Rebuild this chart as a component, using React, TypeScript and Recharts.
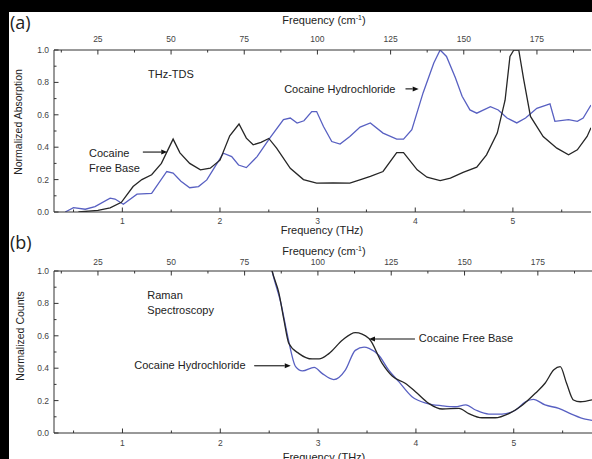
import React from 'react';
import { LineChart, Line, XAxis, YAxis, ReferenceLine, ReferenceDot } from 'recharts';

// ---------- axis definitions ----------
const CM_PER_THZ = 33.356;
const F_MIN = 0.3;
const F_MAX = 5.8;

const thzTicks = [0.5, 1, 1.5, 2, 2.5, 3, 3.5, 4, 4.5, 5, 5.5];
const thzLabels = [1, 2, 3, 4, 5];
const cmTicks = [12.5, 25, 37.5, 50, 62.5, 75, 87.5, 100, 112.5, 125, 137.5, 150, 162.5, 175, 187.5];
const cmLabels = [25, 50, 75, 100, 125, 150, 175];
const yTicks = [0, 0.1, 0.2, 0.3, 0.4, 0.5, 0.6, 0.7, 0.8, 0.9, 1.0];
const yLabels = [0, 0.2, 0.4, 0.6, 0.8, 1.0];

// ---------- (a) THz-TDS ----------
const tdsFreeBaseFreq = [0.55, 0.75, 0.875, 0.99, 1.11, 1.2, 1.3, 1.4, 1.52, 1.59, 1.69, 1.8, 1.9, 2.0, 2.1, 2.195, 2.27, 2.34, 2.42, 2.5, 2.58, 2.72, 2.855, 2.99, 3.16, 3.33, 3.44, 3.54, 3.67, 3.81, 3.88, 4.02, 4.12, 4.255, 4.36, 4.49, 4.63, 4.73, 4.84, 4.92, 4.97, 5.01, 5.06, 5.11, 5.18, 5.31, 5.45, 5.57, 5.66, 5.76, 5.8];
const tdsFreeBaseAbs = [0.0, 0.01, 0.025, 0.06, 0.157, 0.2, 0.23, 0.3, 0.45, 0.365, 0.3, 0.26, 0.27, 0.32, 0.47, 0.543, 0.456, 0.415, 0.43, 0.454, 0.394, 0.27, 0.2, 0.178, 0.18, 0.178, 0.2, 0.22, 0.25, 0.367, 0.367, 0.26, 0.215, 0.194, 0.209, 0.245, 0.277, 0.353, 0.487, 0.69, 0.96, 1.0, 1.0, 0.82, 0.59, 0.466, 0.394, 0.353, 0.384, 0.466, 0.52];

const tdsHclFreq = [0.415, 0.5, 0.62, 0.72, 0.875, 0.925, 1.01, 1.15, 1.3, 1.455, 1.52, 1.6, 1.69, 1.78, 1.865, 1.97, 2.035, 2.12, 2.19, 2.27, 2.38, 2.51, 2.65, 2.72, 2.79, 2.86, 2.94, 2.99, 3.06, 3.145, 3.23, 3.33, 3.435, 3.54, 3.67, 3.81, 3.88, 3.965, 4.08, 4.19, 4.255, 4.32, 4.41, 4.48, 4.56, 4.63, 4.77, 4.85, 4.94, 5.04, 5.13, 5.245, 5.38, 5.43, 5.57, 5.66, 5.72, 5.8];
const tdsHclAbs = [0.0, 0.027, 0.017, 0.033, 0.085, 0.08, 0.048, 0.11, 0.115, 0.25, 0.24, 0.19, 0.15, 0.157, 0.198, 0.3, 0.363, 0.342, 0.29, 0.274, 0.342, 0.456, 0.57, 0.58, 0.549, 0.563, 0.62, 0.62, 0.528, 0.435, 0.419, 0.466, 0.524, 0.55, 0.487, 0.45, 0.45, 0.508, 0.735, 0.92, 1.0, 0.96, 0.83, 0.714, 0.63, 0.61, 0.65, 0.63, 0.58, 0.55, 0.58, 0.64, 0.667, 0.56, 0.57, 0.56, 0.58, 0.66];

// ---------- (b) Raman ----------
const ramanFreeBaseFreq = [2.45, 2.53, 2.6, 2.65, 2.7, 2.805, 2.94, 3.01, 3.11, 3.25, 3.38, 3.52, 3.655, 3.76, 3.89, 3.995, 4.13, 4.27, 4.44, 4.54, 4.675, 4.81, 4.95, 5.08, 5.22, 5.32, 5.41, 5.475, 5.54, 5.61, 5.68, 5.8];
const ramanFreeBaseCounts = [1.25, 1.0, 0.862, 0.7, 0.554, 0.49, 0.457, 0.457, 0.49, 0.574, 0.62, 0.584, 0.43, 0.35, 0.307, 0.255, 0.183, 0.148, 0.152, 0.12, 0.094, 0.094, 0.12, 0.168, 0.245, 0.307, 0.39, 0.41, 0.307, 0.204, 0.193, 0.205];

const ramanHclFreq = [2.45, 2.53, 2.62, 2.69, 2.77, 2.84, 2.96, 3.04, 3.16, 3.28, 3.38, 3.47, 3.52, 3.62, 3.72, 3.825, 3.96, 4.11, 4.27, 4.4, 4.51, 4.61, 4.745, 4.88, 5.02, 5.12, 5.2, 5.32, 5.46, 5.59, 5.73, 5.8];
const ramanHclCounts = [1.25, 1.0, 0.8, 0.594, 0.41, 0.383, 0.405, 0.368, 0.33, 0.39, 0.51, 0.53, 0.523, 0.48, 0.39, 0.317, 0.224, 0.183, 0.168, 0.162, 0.173, 0.142, 0.117, 0.117, 0.142, 0.193, 0.208, 0.173, 0.152, 0.117, 0.085, 0.078];

type Pt = { f: number; v: number; c: number };
const zip = (f: number[], v: number[]): Pt[] => f.map((x, i) => ({ f: x, v: v[i], c: x * CM_PER_THZ }));

const BLACK = '#262626';
const BLUE = '#5860c2';
const AXIS = '#333';
const FONT = '"Liberation Sans", Arial, sans-serif';

type Side = 'bottom' | 'top' | 'left' | 'right';
const isIn = (arr: number[], v: number) => arr.some((a) => Math.abs(a - v) < 1e-6);

function makeTick(side: Side, majors: number[], showLabel: boolean, off: number, fmt: (v: number) => string) {
  return (props: any) => {
    const { x, y, payload } = props;
    const v = payload.value as number;
    const major = isIn(majors, v);
    const len = major ? 4.5 : 2.5;
    let x2 = x, y2 = y;
    if (side === 'bottom') y2 = y - len;
    if (side === 'top') y2 = y + len;
    if (side === 'left') x2 = x + len;
    if (side === 'right') x2 = x - len;
    let label = null;
    if (showLabel && major) {
      const common = { fontFamily: FONT, fontSize: 8.5, fill: '#444' } as any;
      if (side === 'bottom') label = <text x={x} y={y + off} textAnchor="middle" {...common}>{fmt(v)}</text>;
      if (side === 'top') label = <text x={x} y={y - off} textAnchor="middle" {...common}>{fmt(v)}</text>;
      if (side === 'left') label = <text x={x - 5} y={y + 3} textAnchor="end" {...common}>{fmt(v)}</text>;
    }
    return (
      <g>
        <line x1={x} y1={y} x2={x2} y2={y2} stroke={AXIS} strokeWidth={1} />
        {label}
      </g>
    );
  };
}

const arrowShape = (props: any) => {
  const { x1, y1, x2, y2 } = props;
  const ang = Math.atan2(y2 - y1, x2 - x1);
  const L = 6, W = 2.5;
  const bx = x2 - L * Math.cos(ang), by = y2 - L * Math.sin(ang);
  const px = -Math.sin(ang) * W, py = Math.cos(ang) * W;
  return (
    <g>
      <line x1={x1} y1={y1} x2={bx} y2={by} stroke="#111" strokeWidth={1.1} />
      <polygon points={`${x2},${y2} ${bx + px},${by + py} ${bx - px},${by - py}`} fill="#111" />
    </g>
  );
};

const textShape = (txt: string) => (props: any) => (
  <text x={props.cx} y={props.cy} fontFamily={FONT} fontSize={11} fill="#222">{txt}</text>
);

function Panel(props: {
  height: number; topH: number; bottomH: number; right: number;
  topOff: number; bottomOff: number; rightLine: boolean;
  series: { data: Pt[]; color: string; type: any }[];
  notes: { f: number; v: number; text: string }[];
  arrows: { f1: number; f2: number; v: number }[];
}) {
  return (
    <LineChart width={592} height={props.height} margin={{ top: 0, right: props.right, bottom: 0, left: 0 }}>
      <XAxis xAxisId="b" dataKey="f" type="number" domain={[F_MIN, F_MAX]} allowDataOverflow
        ticks={thzTicks} interval={0} height={props.bottomH} tickSize={0} tickMargin={0} tickLine={false}
        axisLine={{ stroke: AXIS }} tick={makeTick('bottom', thzLabels, true, props.bottomOff, (v) => String(v))} />
      <XAxis xAxisId="t" dataKey="c" orientation="top" type="number" domain={[F_MIN * CM_PER_THZ, F_MAX * CM_PER_THZ]} allowDataOverflow
        ticks={cmTicks} interval={0} height={props.topH} tickSize={0} tickMargin={0} tickLine={false}
        axisLine={{ stroke: AXIS }} tick={makeTick('top', cmLabels, true, props.topOff, (v) => String(v))} />
      <YAxis yAxisId="l" type="number" domain={[0, 1]} allowDataOverflow ticks={yTicks} interval={0} width={54}
        tickSize={0} tickMargin={0} tickLine={false} axisLine={{ stroke: AXIS }}
        tick={makeTick('left', yLabels, true, 0, (v) => v.toFixed(1))} />
      <YAxis yAxisId="r" orientation="right" type="number" domain={[0, 1]} allowDataOverflow ticks={yTicks} interval={0} width={0}
        tickSize={0} tickMargin={0} tickLine={false} axisLine={props.rightLine ? { stroke: AXIS } : false}
        tick={makeTick('right', yLabels, false, 0, (v) => String(v))} />
      {/* invisible companion series so the secondary (cm-1 / right) axes are drawn */}
      <Line xAxisId="t" yAxisId="r" data={props.series[0].data} dataKey="v" dot={false} stroke="none"
        activeDot={false} legendType="none" isAnimationActive={false} />
      {props.series.map((s, i) => (
        <Line key={i} xAxisId="b" yAxisId="l" data={s.data} dataKey="v" type={s.type} dot={false}
          stroke={s.color} strokeWidth={1.3} isAnimationActive={false} />
      ))}
      {props.arrows.map((a, i) => (
        <ReferenceLine key={'a' + i} xAxisId="b" yAxisId="l" segment={[{ x: a.f1, y: a.v }, { x: a.f2, y: a.v }]}
          shape={arrowShape} />
      ))}
      {props.notes.map((n, i) => (
        <ReferenceDot key={'n' + i} xAxisId="b" yAxisId="l" x={n.f} y={n.v} r={0} shape={textShape(n.text)} />
      ))}
    </LineChart>
  );
}

export default function App() {
  return (
    <div style={{ position: 'absolute', left: 0, top: 0, width: 592, height: 459, background: '#fff', overflow: 'hidden' }}>
      <div style={{ position: 'absolute', left: 0, top: 0 }}>
        <Panel height={240} topH={50} bottomH={28} right={1} topOff={8.5} bottomOff={12} rightLine={true}
          series={[
            { data: zip(tdsHclFreq, tdsHclAbs), color: BLUE, type: 'linear' },
            { data: zip(tdsFreeBaseFreq, tdsFreeBaseAbs), color: BLACK, type: 'linear' },
          ]}
          notes={[
            { f: 1.263, v: 0.83, text: 'THz-TDS' },
            { f: 0.659, v: 0.34, text: 'Cocaine' },
            { f: 0.659, v: 0.248, text: 'Free Base' },
            { f: 2.657, v: 0.737, text: 'Cocaine Hydrochloride' },
          ]}
          arrows={[
            { f1: 1.21, f2: 1.46, v: 0.37 },
            { f1: 3.9, f2: 4.035, v: 0.76 },
          ]}
        />
      </div>
      <div style={{ position: 'absolute', left: 0, top: 240 }}>
        <Panel height={219} topH={31} bottomH={26} right={0} topOff={6} bottomOff={13} rightLine={false}
          series={[
            { data: zip(ramanHclFreq, ramanHclCounts), color: BLUE, type: 'monotone' },
            { data: zip(ramanFreeBaseFreq, ramanFreeBaseCounts), color: BLACK, type: 'monotone' },
          ]}
          notes={[
            { f: 1.254, v: 0.827, text: 'Raman' },
            { f: 1.254, v: 0.735, text: 'Spectroscopy' },
            { f: 1.121, v: 0.395, text: 'Cocaine Hydrochloride' },
            { f: 4.03, v: 0.564, text: 'Cocaine Free Base' },
          ]}
          arrows={[
            { f1: 2.346, f2: 2.72, v: 0.415 },
            { f1: 3.99, f2: 3.52, v: 0.58 },
          ]}
        />
      </div>
      <svg width={592} height={459} style={{ position: 'absolute', left: 0, top: 0, pointerEvents: 'none' }}>
        <text x={10} y={29} fontFamily='"Open Sans", sans-serif' fontSize={18} fill="#222">(a)</text>
        <text x={10} y={249} fontFamily='"Open Sans", sans-serif' fontSize={18} fill="#222">(b)</text>
        <text x={324} y={24} textAnchor="middle" fontFamily={FONT} fontSize={11} fill="#222">
          Frequency (cm<tspan fontSize={7} dy={-4}>-1</tspan><tspan dy={4}>)</tspan>
        </text>
        <text x={322} y={234} textAnchor="middle" fontFamily={FONT} fontSize={11} fill="#222">Frequency (THz)</text>
        <text x={324} y={255} textAnchor="middle" fontFamily={FONT} fontSize={11} fill="#222">
          Frequency (cm<tspan fontSize={7} dy={-4}>-1</tspan><tspan dy={4}>)</tspan>
        </text>
        <text x={324} y={461} textAnchor="middle" fontFamily={FONT} fontSize={11} fill="#222">Frequency (THz)</text>
        <text transform="translate(22,122) rotate(-90)" textAnchor="middle" fontFamily={FONT} fontSize={10.5} fill="#222">Normalized Absorption</text>
        <text transform="translate(24,336) rotate(-90)" textAnchor="middle" fontFamily={FONT} fontSize={10.5} fill="#222">Normalized Counts</text>
      </svg>
      <div style={{ position: 'absolute', left: 0, top: 0, width: 592, height: 12, background: '#000' }} />
      <div style={{ position: 'absolute', left: 0, top: 0, width: 9, height: 459, background: '#000' }} />
    </div>
  );
}
